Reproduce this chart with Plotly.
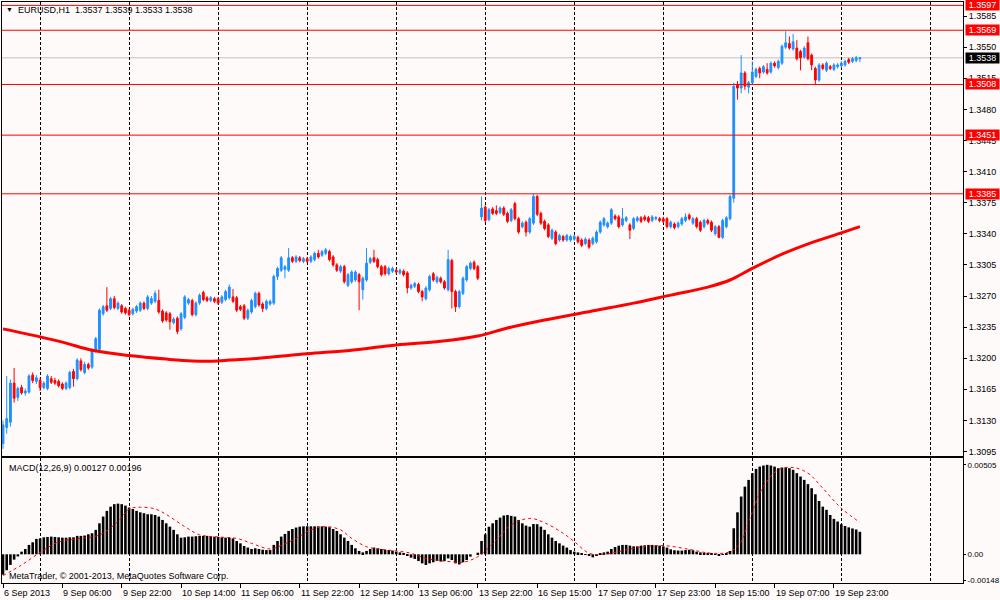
import plotly.graph_objects as go

# EURUSD H1, 6 Sep 2013 14:00 .. 20 Sep 2013, one entry per hourly bar
opens = [
    1.3104, 1.3122, 1.3128, 1.3172, 1.3156, 1.3167, 1.3161, 1.3162, 1.3181, 1.3174,
    1.3175, 1.3167, 1.3166, 1.3177, 1.3175, 1.3174, 1.3171, 1.3166, 1.3167, 1.3185,
    1.3177, 1.3197, 1.3184, 1.3193, 1.3190, 1.3208, 1.3210, 1.3250, 1.3259, 1.3256,
    1.3267, 1.3256, 1.3259, 1.3256, 1.3254, 1.3250, 1.3253, 1.3254, 1.3262, 1.3256,
    1.3262, 1.3264, 1.3265, 1.3253, 1.3251, 1.3250, 1.3240, 1.3245, 1.3233, 1.3246,
    1.3262, 1.3265, 1.3249, 1.3262, 1.3274, 1.3268, 1.3265, 1.3267, 1.3267, 1.3263,
    1.3266, 1.3268, 1.3269, 1.3268, 1.3258, 1.3259, 1.3245, 1.3252, 1.3258, 1.3273,
    1.3261, 1.3256, 1.3261, 1.3262, 1.3292, 1.3299, 1.3300, 1.3299, 1.3313, 1.3309,
    1.3313, 1.3309, 1.3312, 1.3309, 1.3311, 1.3318, 1.3316, 1.3318, 1.3320, 1.3314,
    1.3305, 1.3298, 1.3303, 1.3282, 1.3286, 1.3288, 1.3294, 1.3277, 1.3288, 1.3308,
    1.3313, 1.3311, 1.3303, 1.3303, 1.3295, 1.3298, 1.3299, 1.3296, 1.3298, 1.3296,
    1.3279, 1.3281, 1.3283, 1.3275, 1.3267, 1.3277, 1.3295, 1.3286, 1.3290, 1.3286,
    1.3277, 1.3310, 1.3275, 1.3258, 1.3273, 1.3288, 1.3301, 1.3308, 1.3303, 1.3359,
    1.3370, 1.3356, 1.3368, 1.3366, 1.3364, 1.3369, 1.3363, 1.3355, 1.3374, 1.3357,
    1.3348, 1.3353, 1.3342, 1.3352, 1.3382, 1.3363, 1.3354, 1.3350, 1.3335, 1.3342,
    1.3333, 1.3337, 1.3333, 1.3333, 1.3334, 1.3336, 1.3333, 1.3329, 1.3333, 1.3329,
    1.3331, 1.3342, 1.3350, 1.3348, 1.3352, 1.3360, 1.3359, 1.3350, 1.3355, 1.3350,
    1.3346, 1.3355, 1.3358, 1.3359, 1.3358, 1.3355, 1.3357, 1.3357, 1.3357, 1.3357,
    1.3348, 1.3351, 1.3348, 1.3351, 1.3355, 1.3361, 1.3352, 1.3357, 1.3353, 1.3348,
    1.3355, 1.3353, 1.3340, 1.3348, 1.3336, 1.3348, 1.3357, 1.3380, 1.3508, 1.3504,
    1.3521, 1.3505, 1.3510, 1.3517, 1.3526, 1.3522, 1.3525, 1.3522, 1.3532, 1.3527,
    1.3532, 1.3550, 1.3554, 1.3548, 1.3549, 1.3545, 1.3539, 1.3555, 1.3541, 1.3526,
    1.3513, 1.3530, 1.3524, 1.3528, 1.3525, 1.3528, 1.3529, 1.3530, 1.3536, 1.3534,
    1.3535, 1.3537,
]
highs = [
    1.3130, 1.3180, 1.3176, 1.3189, 1.3168, 1.3170, 1.3166, 1.3182, 1.3184, 1.3181,
    1.3178, 1.3174, 1.3182, 1.3180, 1.3178, 1.3176, 1.3173, 1.3174, 1.3186, 1.3188,
    1.3200, 1.3200, 1.3196, 1.3195, 1.3211, 1.3224, 1.3256, 1.3260, 1.3280, 1.3269,
    1.3270, 1.3264, 1.3261, 1.3258, 1.3256, 1.3257, 1.3260, 1.3264, 1.3264, 1.3271,
    1.3270, 1.3276, 1.3277, 1.3255, 1.3253, 1.3252, 1.3246, 1.3247, 1.3252, 1.3271,
    1.3268, 1.3267, 1.3264, 1.3273, 1.3276, 1.3270, 1.3270, 1.3269, 1.3269, 1.3271,
    1.3277, 1.3283, 1.3278, 1.3270, 1.3260, 1.3261, 1.3256, 1.3267, 1.3275, 1.3275,
    1.3263, 1.3266, 1.3266, 1.3294, 1.3303, 1.3315, 1.3305, 1.3324, 1.3315, 1.3316,
    1.3315, 1.3314, 1.3314, 1.3316, 1.3320, 1.3322, 1.3322, 1.3324, 1.3322, 1.3316,
    1.3307, 1.3305, 1.3305, 1.3296, 1.3299, 1.3299, 1.3296, 1.3292, 1.3324, 1.3314,
    1.3322, 1.3313, 1.3305, 1.3305, 1.3303, 1.3303, 1.3301, 1.3301, 1.3300, 1.3298,
    1.3284, 1.3286, 1.3285, 1.3277, 1.3281, 1.3294, 1.3297, 1.3293, 1.3292, 1.3288,
    1.3322, 1.3312, 1.3277, 1.3277, 1.3292, 1.3305, 1.3309, 1.3310, 1.3305, 1.3382,
    1.3372, 1.3369, 1.3370, 1.3372, 1.3371, 1.3371, 1.3365, 1.3369, 1.3376, 1.3359,
    1.3354, 1.3355, 1.3359, 1.3385, 1.3384, 1.3365, 1.3356, 1.3352, 1.3346, 1.3344,
    1.3340, 1.3339, 1.3340, 1.3339, 1.3339, 1.3338, 1.3335, 1.3336, 1.3335, 1.3337,
    1.3344, 1.3355, 1.3359, 1.3354, 1.3369, 1.3362, 1.3361, 1.3369, 1.3360, 1.3352,
    1.3359, 1.3360, 1.3360, 1.3361, 1.3360, 1.3361, 1.3360, 1.3359, 1.3359, 1.3359,
    1.3355, 1.3353, 1.3354, 1.3359, 1.3363, 1.3363, 1.3359, 1.3359, 1.3355, 1.3357,
    1.3357, 1.3355, 1.3350, 1.3350, 1.3357, 1.3360, 1.3384, 1.3510, 1.3512, 1.3541,
    1.3523, 1.3512, 1.3534, 1.3527, 1.3528, 1.3530, 1.3532, 1.3534, 1.3534, 1.3536,
    1.3553, 1.3568, 1.3562, 1.3565, 1.3558, 1.3547, 1.3551, 1.3562, 1.3543, 1.3528,
    1.3532, 1.3532, 1.3534, 1.3530, 1.3532, 1.3532, 1.3534, 1.3536, 1.3538, 1.3539,
    1.3540, 1.3539,
]
lows = [
    1.3098, 1.3115, 1.3123, 1.3150, 1.3152, 1.3159, 1.3158, 1.3160, 1.3172, 1.3171,
    1.3163, 1.3165, 1.3164, 1.3171, 1.3170, 1.3167, 1.3164, 1.3164, 1.3165, 1.3168,
    1.3175, 1.3185, 1.3182, 1.3187, 1.3188, 1.3206, 1.3208, 1.3248, 1.3252, 1.3254,
    1.3255, 1.3254, 1.3250, 1.3249, 1.3247, 1.3248, 1.3251, 1.3252, 1.3254, 1.3254,
    1.3260, 1.3262, 1.3250, 1.3240, 1.3241, 1.3232, 1.3238, 1.3227, 1.3231, 1.3244,
    1.3260, 1.3247, 1.3247, 1.3260, 1.3264, 1.3263, 1.3263, 1.3262, 1.3260, 1.3261,
    1.3264, 1.3266, 1.3262, 1.3252, 1.3253, 1.3243, 1.3243, 1.3250, 1.3256, 1.3258,
    1.3252, 1.3254, 1.3259, 1.3260, 1.3288, 1.3297, 1.3290, 1.3297, 1.3307, 1.3307,
    1.3308, 1.3307, 1.3307, 1.3307, 1.3309, 1.3312, 1.3314, 1.3316, 1.3309, 1.3303,
    1.3297, 1.3296, 1.3284, 1.3280, 1.3284, 1.3286, 1.3254, 1.3266, 1.3286, 1.3306,
    1.3307, 1.3301, 1.3292, 1.3293, 1.3293, 1.3296, 1.3295, 1.3294, 1.3292, 1.3273,
    1.3277, 1.3279, 1.3273, 1.3264, 1.3265, 1.3275, 1.3286, 1.3284, 1.3284, 1.3277,
    1.3275, 1.3256, 1.3252, 1.3256, 1.3271, 1.3286, 1.3299, 1.3299, 1.3288, 1.3355,
    1.3353, 1.3354, 1.3361, 1.3361, 1.3362, 1.3360, 1.3352, 1.3353, 1.3355, 1.3340,
    1.3346, 1.3337, 1.3340, 1.3350, 1.3360, 1.3350, 1.3344, 1.3335, 1.3333, 1.3327,
    1.3331, 1.3331, 1.3331, 1.3331, 1.3332, 1.3329, 1.3325, 1.3327, 1.3323, 1.3327,
    1.3329, 1.3340, 1.3348, 1.3346, 1.3350, 1.3355, 1.3346, 1.3348, 1.3353, 1.3334,
    1.3344, 1.3353, 1.3352, 1.3354, 1.3352, 1.3353, 1.3355, 1.3353, 1.3352, 1.3346,
    1.3346, 1.3345, 1.3346, 1.3349, 1.3353, 1.3355, 1.3350, 1.3346, 1.3342, 1.3346,
    1.3350, 1.3342, 1.3338, 1.3335, 1.3334, 1.3346, 1.3355, 1.3375, 1.3491, 1.3498,
    1.3502, 1.3498, 1.3508, 1.3515, 1.3515, 1.3520, 1.3519, 1.3520, 1.3527, 1.3525,
    1.3530, 1.3548, 1.3547, 1.3546, 1.3535, 1.3524, 1.3537, 1.3535, 1.3524, 1.3508,
    1.3511, 1.3524, 1.3522, 1.3524, 1.3523, 1.3526, 1.3527, 1.3528, 1.3531, 1.3532,
    1.3533, 1.3533,
]
closes = [
    1.3125, 1.3132, 1.3172, 1.3155, 1.3166, 1.3161, 1.3163, 1.3180, 1.3175, 1.3178,
    1.3167, 1.3172, 1.3180, 1.3173, 1.3172, 1.3169, 1.3166, 1.3172, 1.3184, 1.3177,
    1.3198, 1.3187, 1.3193, 1.3189, 1.3209, 1.3222, 1.3254, 1.3258, 1.3254, 1.3267,
    1.3257, 1.3262, 1.3252, 1.3251, 1.3249, 1.3255, 1.3258, 1.3262, 1.3256, 1.3269,
    1.3267, 1.3273, 1.3252, 1.3242, 1.3243, 1.3241, 1.3244, 1.3230, 1.3250, 1.3269,
    1.3266, 1.3249, 1.3262, 1.3271, 1.3266, 1.3265, 1.3268, 1.3264, 1.3262, 1.3269,
    1.3275, 1.3280, 1.3264, 1.3254, 1.3255, 1.3245, 1.3254, 1.3265, 1.3273, 1.3260,
    1.3256, 1.3264, 1.3264, 1.3292, 1.3301, 1.3313, 1.3303, 1.3313, 1.3309, 1.3314,
    1.3310, 1.3312, 1.3309, 1.3314, 1.3318, 1.3314, 1.3320, 1.3322, 1.3311, 1.3305,
    1.3299, 1.3303, 1.3286, 1.3294, 1.3297, 1.3297, 1.3286, 1.3290, 1.3307, 1.3312,
    1.3309, 1.3303, 1.3294, 1.3295, 1.3301, 1.3301, 1.3297, 1.3299, 1.3294, 1.3279,
    1.3282, 1.3284, 1.3275, 1.3269, 1.3279, 1.3292, 1.3288, 1.3291, 1.3286, 1.3279,
    1.3311, 1.3275, 1.3258, 1.3275, 1.3290, 1.3303, 1.3307, 1.3301, 1.3290, 1.3369,
    1.3355, 1.3367, 1.3363, 1.3363, 1.3369, 1.3362, 1.3354, 1.3367, 1.3357, 1.3342,
    1.3352, 1.3342, 1.3357, 1.3382, 1.3362, 1.3352, 1.3346, 1.3337, 1.3344, 1.3329,
    1.3338, 1.3333, 1.3338, 1.3337, 1.3337, 1.3331, 1.3327, 1.3334, 1.3325, 1.3335,
    1.3342, 1.3353, 1.3357, 1.3352, 1.3367, 1.3357, 1.3348, 1.3357, 1.3358, 1.3344,
    1.3357, 1.3358, 1.3354, 1.3356, 1.3354, 1.3359, 1.3358, 1.3355, 1.3354, 1.3348,
    1.3353, 1.3347, 1.3352, 1.3357, 1.3359, 1.3357, 1.3357, 1.3348, 1.3344, 1.3355,
    1.3352, 1.3344, 1.3348, 1.3336, 1.3355, 1.3358, 1.3382, 1.3506, 1.3504, 1.3521,
    1.3506, 1.3510, 1.3522, 1.3525, 1.3521, 1.3528, 1.3521, 1.3532, 1.3529, 1.3534,
    1.3551, 1.3555, 1.3549, 1.3556, 1.3537, 1.3538, 1.3549, 1.3537, 1.3530, 1.3513,
    1.3530, 1.3526, 1.3532, 1.3526, 1.3530, 1.3530, 1.3532, 1.3534, 1.3533, 1.3537,
    1.3538, 1.3538,
]

# long moving average (red line), read at a handful of bars
ma_bars = [0, 10, 17, 24, 34, 44, 51, 58, 61, 69, 82, 94, 106, 118, 128, 136,
           146, 160, 170, 180, 190, 196, 202, 210, 218, 226, 231]
ma_vals = [1.3233, 1.3224, 1.3217, 1.3209, 1.3203, 1.3199, 1.3197, 1.3197, 1.3198,
           1.3200, 1.3205, 1.3209, 1.3215, 1.3219, 1.3225, 1.3234, 1.3243, 1.3254,
           1.3262, 1.3271, 1.3280, 1.3288, 1.3301, 1.3317, 1.3330, 1.3341, 1.3348]

# MACD(12,26,9) main values, one per bar
macd_vals = [
    -0.00115, -0.00090, -0.00060, -0.00030, -0.00012, 0.00015, 0.00030, 0.00053, 0.00068, 0.00087,
    0.00090, 0.00096, 0.00098, 0.00100, 0.00098, 0.00096, 0.00094, 0.00094, 0.00096, 0.00096,
    0.00104, 0.00104, 0.00106, 0.00113, 0.00119, 0.00138, 0.00175, 0.00213, 0.00245, 0.00269,
    0.00283, 0.00286, 0.00283, 0.00275, 0.00264, 0.00256, 0.00245, 0.00237, 0.00232, 0.00226,
    0.00226, 0.00222, 0.00213, 0.00194, 0.00175, 0.00156, 0.00138, 0.00113, 0.00094, 0.00096,
    0.00100, 0.00100, 0.00102, 0.00104, 0.00104, 0.00104, 0.00102, 0.00100, 0.00098, 0.00096,
    0.00094, 0.00094, 0.00090, 0.00075, 0.00062, 0.00047, 0.00038, 0.00030, 0.00034, 0.00030,
    0.00026, 0.00024, 0.00024, 0.00053, 0.00075, 0.00100, 0.00115, 0.00132, 0.00143, 0.00151,
    0.00156, 0.00158, 0.00158, 0.00158, 0.00158, 0.00158, 0.00158, 0.00156, 0.00153, 0.00143,
    0.00132, 0.00113, 0.00094, 0.00075, 0.00053, 0.00034, 0.00019, 0.00011, 0.00019, 0.00030,
    0.00038, 0.00034, 0.00030, 0.00026, 0.00024, 0.00021, 0.00015, 0.00011, 0.00004, -0.00008,
    -0.00019, -0.00026, -0.00038, -0.00051, -0.00060, -0.00051, -0.00045, -0.00038, -0.00041, -0.00038,
    -0.00023, -0.00032, -0.00051, -0.00057, -0.00045, -0.00032, -0.00013, 0.00000, 0.00009, 0.00075,
    0.00113, 0.00156, 0.00175, 0.00194, 0.00207, 0.00219, 0.00222, 0.00217, 0.00213, 0.00194,
    0.00175, 0.00162, 0.00156, 0.00171, 0.00170, 0.00156, 0.00138, 0.00113, 0.00094, 0.00075,
    0.00062, 0.00049, 0.00038, 0.00024, 0.00015, 0.00011, 0.00002, -0.00004, -0.00009, -0.00017,
    -0.00009, 0.00004, 0.00011, 0.00015, 0.00030, 0.00041, 0.00049, 0.00053, 0.00053, 0.00049,
    0.00045, 0.00045, 0.00049, 0.00051, 0.00053, 0.00053, 0.00051, 0.00049, 0.00045, 0.00038,
    0.00028, 0.00023, 0.00021, 0.00021, 0.00024, 0.00026, 0.00023, 0.00015, 0.00011, 0.00009,
    0.00009, 0.00006, -0.00004, -0.00008, -0.00004, 0.00002, 0.00019, 0.00147, 0.00237, 0.00326,
    0.00382, 0.00420, 0.00458, 0.00482, 0.00495, 0.00501, 0.00505, 0.00501, 0.00495, 0.00486,
    0.00490, 0.00490, 0.00486, 0.00477, 0.00458, 0.00439, 0.00420, 0.00396, 0.00373, 0.00339,
    0.00301, 0.00269, 0.00251, 0.00222, 0.00200, 0.00185, 0.00170, 0.00160, 0.00152, 0.00146,
    0.00140, 0.00127,
]

# MACD signal line, read at a handful of bars
signal_bars = [0, 5, 10, 15, 21, 26, 31, 34, 37, 41, 44, 49, 53, 58, 63, 67, 72, 75,
               79, 83, 87, 91, 94, 98, 102, 106, 110, 114, 118, 121, 124, 128, 133,
               137, 142, 146, 151, 154, 158, 162, 166, 171, 178, 185, 191, 196, 199,
               201, 205, 209, 213, 217, 221, 226, 231]
signal_vals = [-0.00120, -0.00060, 0.00010, 0.00070, 0.00090, 0.00109, 0.00185, 0.00255,
               0.00266, 0.00256, 0.00225, 0.00156, 0.00110, 0.00098, 0.00090, 0.00062,
               0.00030, 0.00050, 0.00090, 0.00138, 0.00156, 0.00138, 0.00090, 0.00043,
               0.00028, 0.00019, 0.00006, -0.00023, -0.00036, -0.00042, -0.00045, -0.00013,
               0.00081, 0.00166, 0.00203, 0.00178, 0.00119, 0.00072, 0.00006, 0.00000,
               0.00015, 0.00038, 0.00049, 0.00028, 0.00006, 0.00015, 0.00072, 0.00185,
               0.00382, 0.00477, 0.00490, 0.00458, 0.00373, 0.00260, 0.00180]

# horizontal levels drawn on the chart + current bid
levels = [1.3597, 1.3569, 1.3508, 1.3451, 1.3385]
bid = 1.3538

price_ticks = [1.3095, 1.3130, 1.3165, 1.3200, 1.3235, 1.3270, 1.3305, 1.3340,
               1.3375, 1.3410, 1.3445, 1.3480, 1.3515, 1.3550, 1.3585]
macd_ticks = [0.00505, 0.0, -0.00148]
macd_tick_text = ['0.00505', '0.00', '-0.00148']

time_tick_bars = [0, 16, 32, 48, 64, 80, 96, 112, 128, 144, 160, 176, 192, 208, 224]
time_tick_text = ['6 Sep 2013', '9 Sep 06:00', '9 Sep 22:00', '10 Sep 14:00',
                  '11 Sep 06:00', '11 Sep 22:00', '12 Sep 14:00', '13 Sep 06:00',
                  '13 Sep 22:00', '16 Sep 15:00', '17 Sep 07:00', '17 Sep 23:00',
                  '18 Sep 15:00', '19 Sep 07:00', '19 Sep 23:00']
grid_bars = [10, 34, 58, 82, 106, 130, 154, 178, 202, 226, 250]

BG = '#FFFAFA'
BLUE = '#1E90FF'
RED = '#FF0000'
FONT = 'Liberation Sans, Arial, sans-serif'

n = min(len(opens), len(highs), len(lows), len(closes))
bars = list(range(n))

fig = go.Figure()
fig.add_trace(go.Candlestick(
    x=bars, open=opens[:n], high=highs[:n], low=lows[:n], close=closes[:n],
    xaxis='x', yaxis='y', whiskerwidth=0, hoverinfo='skip',
    increasing=dict(line=dict(color=BLUE, width=1), fillcolor=BLUE),
    decreasing=dict(line=dict(color=RED, width=1), fillcolor=RED),
))
fig.add_trace(go.Scatter(
    x=ma_bars, y=ma_vals, mode='lines', xaxis='x', yaxis='y',
    line=dict(color=RED, width=3, shape='spline'), hoverinfo='skip',
))
fig.add_trace(go.Bar(
    x=list(range(len(macd_vals))), y=macd_vals, xaxis='x2', yaxis='y2',
    marker=dict(color='black', line=dict(width=0)), hoverinfo='skip',
))
fig.add_trace(go.Scatter(
    x=signal_bars, y=signal_vals, mode='lines', xaxis='x2', yaxis='y2',
    line=dict(color=RED, width=1, dash='dot', shape='spline'), hoverinfo='skip',
))

# level lines + bid line
for lv in levels:
    fig.add_shape(type='line', xref='x domain', yref='y', x0=0, x1=1, y0=lv, y1=lv,
                  line=dict(color=RED, width=1), layer='above')
fig.add_shape(type='line', xref='x domain', yref='y', x0=0, x1=1, y0=bid, y1=bid,
              line=dict(color='#C0C0C0', width=1), layer='below')

grid_minor = dict(tickmode='array', tickvals=grid_bars, showgrid=True, gridcolor='black',
                  griddash='3px,2px', gridwidth=1, ticks='')
frame = dict(showline=True, mirror=True, linecolor='black', linewidth=1,
             zeroline=False, showgrid=False, automargin=False)

x_range = [-0.27, 258.8]
fig.update_layout(
    width=1000, height=600,
    margin=dict(l=2, r=37, t=2, b=17),
    paper_bgcolor=BG, plot_bgcolor=BG,
    font=dict(family=FONT, size=9, color='black'),
    showlegend=False, bargap=0.3,
    xaxis=dict(domain=[0, 1], anchor='y', range=x_range, showticklabels=False,
               ticks='', rangeslider=dict(visible=False), minor=grid_minor, **frame),
    yaxis=dict(domain=[0.2186, 1], anchor='x', side='right', range=[1.3090, 1.36008],
               tickvals=price_ticks, tickformat='.4f', ticks='outside', ticklen=3,
               tickcolor='black', **frame),
    xaxis2=dict(domain=[0, 1], anchor='y2', range=x_range, matches='x',
                tickvals=time_tick_bars, showticklabels=False, ticks='outside',
                ticklen=4, tickcolor='black', minor=grid_minor, **frame),
    yaxis2=dict(domain=[0, 0.2151], anchor='x2', side='right',
                range=[-0.001619, 0.005434], tickvals=macd_ticks, ticktext=macd_tick_text,
                ticks='outside', ticklen=2, tickcolor='black', tickfont=dict(size=8),
                **frame),
)

# time labels start at their tick, like the terminal does
for b, t in zip(time_tick_bars, time_tick_text):
    fig.add_annotation(x=b, xref='x2', y=0, yref='paper', text=t, showarrow=False,
                       xanchor='left', yanchor='top', yshift=-3, xshift=-1)

# price labels for the levels on the right scale
for lv in levels:
    fig.add_annotation(x=1, xref='paper', y=lv, yref='y', text=f'{lv:.4f}',
                       showarrow=False, xanchor='left', xshift=2, bgcolor=RED,
                       font=dict(color='white'), width=33, height=10, borderpad=0)
fig.add_annotation(x=1, xref='paper', y=bid, yref='y', text=f'{bid:.4f}',
                   showarrow=False, xanchor='left', xshift=2, bgcolor='black',
                   font=dict(color='white'), width=33, height=10, borderpad=0)

fig.add_annotation(x=0, xref='paper', y=1, yref='paper', xanchor='left', yanchor='top',
                   xshift=2, yshift=-2, showarrow=False, text='▼', font=dict(size=7))
fig.add_annotation(x=0, xref='paper', y=1, yref='paper', xanchor='left', yanchor='top',
                   xshift=14, yshift=-1, showarrow=False,
                   text='EURUSD,H1  1.3537 1.3539 1.3533 1.3538')
fig.add_annotation(x=0, xref='paper', y=0.2151, yref='paper', xanchor='left',
                   yanchor='top', xshift=5, yshift=-3, showarrow=False,
                   text='MACD(12,26,9) 0.00127 0.00196')
fig.add_annotation(x=0, xref='paper', y=0, yref='paper', xanchor='left',
                   yanchor='bottom', xshift=5, yshift=0, showarrow=False,
                   text='MetaTrader, © 2001-2013, MetaQuotes Software Corp.')

# drop the browser's default body margin so the 1000x600 figure fills the window
fig.write_html("out.html", config={'displayModeBar': False},
               post_script="document.body.style.margin='0';")
